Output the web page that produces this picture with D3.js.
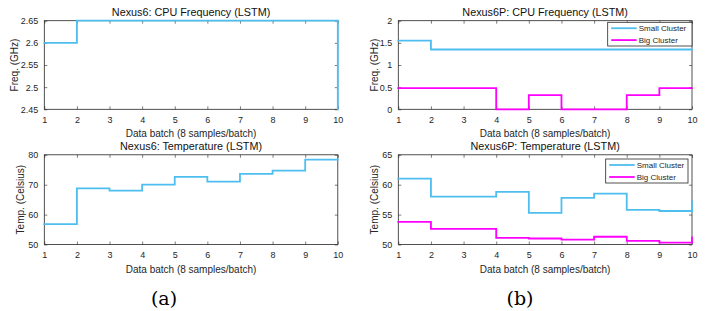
<!DOCTYPE html>
<html>
<head>
<meta charset="utf-8">
<script src="https://cdn.jsdelivr.net/npm/d3@7"></script>
<style>
  html, body { margin: 0; padding: 0; background: #fff; }
  svg { display: block; }
  text { font-family: "Liberation Sans", Arial, Helvetica, sans-serif; }
</style>
</head>
<body>
<svg id="chart" width="722" height="311"></svg>
<script>
// ---------------- data ----------------
const batches = [1, 2, 3, 4, 5, 6, 7, 8, 9, 10];
const xTicks = [1, 2, 3, 4, 5, 6, 7, 8, 9, 10];

const nexus6Freq = [2.60, 2.65, 2.65, 2.65, 2.65, 2.65, 2.65, 2.65, 2.65, 2.45];
const nexus6Temp = [56.8, 68.8, 68.0, 70.0, 72.6, 71.0, 73.6, 74.7, 78.4, 78.4];

const nexus6PFreqSmall = [1.55, 1.35, 1.35, 1.35, 1.35, 1.35, 1.35, 1.35, 1.35, 1.35];
const nexus6PFreqBig   = [0.48, 0.48, 0.48, 0.00, 0.32, 0.00, 0.00, 0.32, 0.48, 0.48];

const nexus6PTempSmall = [61.0, 58.0, 58.0, 58.8, 55.3, 57.8, 58.5, 55.8, 55.6, 57.2];
const nexus6PTempBig   = [53.8, 52.6, 52.6, 51.1, 51.0, 50.8, 51.3, 50.6, 50.3, 51.2];

const freqTicksA = [2.45, 2.5, 2.55, 2.6, 2.65];
const freqTicksB = [0, 0.5, 1, 1.5, 2];
const tempTicksA = [50, 60, 70, 80];
const tempTicksB = [50, 55, 60, 65];

const seriesNames = ["Small Cluster", "Big Cluster"];
const titles = [
  "Nexus6: CPU Frequency (LSTM)",
  "Nexus6P: CPU Frequency (LSTM)",
  "Nexus6: Temperature (LSTM)",
  "Nexus6P: Temperature (LSTM)"
];
const xLabel = "Data batch (8 samples/batch)";
const yLabels = ["Freq. (GHz)", "Temp. (Celsius)"];
const captions = ["(a)", "(b)"];

// ---------------- styles ----------------
const BLUE = "#4DBEEE";
const MAGENTA = "#FF00FF";
const AXC = "#262626";

const svg = d3.select("#chart");

function panel(opts) {
  const { x0, x1, y0, y1, yDomain, yTicks, series, title, ylabel, ylabelX, legend } = opts;
  const x = d3.scaleLinear().domain([1, 10]).range([x0, x1]);
  const y = d3.scaleLinear().domain(yDomain).range([y1, y0]);
  const g = svg.append("g");

  // white background box
  g.append("rect").attr("x", x0).attr("y", y0).attr("width", x1 - x0).attr("height", y1 - y0)
    .attr("fill", "#fff");

  const fmt = d => String(+d.toFixed(2));

  // bottom axis (inward ticks)
  const gb = g.append("g").attr("transform", `translate(0,${y1})`)
    .call(d3.axisBottom(x).tickValues(xTicks).tickSizeInner(-3).tickSizeOuter(0).tickPadding(7).tickFormat(d3.format("d")));
  // top axis
  const gt = g.append("g").attr("transform", `translate(0,${y0})`)
    .call(d3.axisTop(x).tickValues(xTicks).tickSizeInner(-3).tickSizeOuter(0).tickFormat(""));
  // left axis
  const gl = g.append("g").attr("transform", `translate(${x0},0)`)
    .call(d3.axisLeft(y).tickValues(yTicks).tickSizeInner(-3).tickSizeOuter(0).tickPadding(6).tickFormat(fmt));
  // right axis
  const gr = g.append("g").attr("transform", `translate(${x1},0)`)
    .call(d3.axisRight(y).tickValues(yTicks).tickSizeInner(-3).tickSizeOuter(0).tickFormat(""));

  [gb, gt, gl, gr].forEach(a => {
    a.select(".domain").remove();
    a.selectAll("line").attr("stroke", AXC).attr("stroke-width", 0.6);
    a.selectAll("text").attr("fill", AXC).style("font-size", "9px")
      .style("font-family", '"Liberation Sans", Arial, sans-serif');
  });

  // box
  g.append("rect").attr("x", x0).attr("y", y0).attr("width", x1 - x0).attr("height", y1 - y0)
    .attr("fill", "none").attr("stroke", AXC).attr("stroke-width", 0.8);

  // lines
  const line = d3.line().x((d, i) => x(batches[i])).y(d => y(d)).curve(d3.curveStepAfter);
  series.forEach(s => {
    g.append("path").datum(s.values).attr("d", line)
      .attr("fill", "none").attr("stroke", s.color).attr("stroke-width", 1.8)
      .attr("stroke-linejoin", "miter").attr("stroke-linecap", "square");
  });

  // title
  g.append("text").attr("x", (x0 + x1) / 2).attr("y", y0 - 5)
    .attr("text-anchor", "middle").style("font-size", "10.8px").attr("fill", "#111")
    .text(title);
  // x label
  g.append("text").attr("x", (x0 + x1) / 2).attr("y", y1 + 28)
    .attr("text-anchor", "middle").style("font-size", "10px").attr("fill", AXC)
    .text(xLabel);
  // y label
  g.append("text")
    .attr("transform", `translate(${ylabelX},${(y0 + y1) / 2}) rotate(-90)`)
    .attr("text-anchor", "middle").attr("dy", "0.35em").style("font-size", "10px").attr("fill", AXC)
    .text(ylabel);

  if (legend) {
    const { lx0, ly0, lx1, ly1 } = legend;
    g.append("rect").attr("x", lx0).attr("y", ly0).attr("width", lx1 - lx0).attr("height", ly1 - ly0)
      .attr("fill", "#fff").attr("stroke", AXC).attr("stroke-width", 0.8);
    const rowH = (ly1 - ly0) / 2;
    series.forEach((s, i) => {
      const cy = ly0 + rowH * (i + 0.5);
      g.append("line").attr("x1", lx0 + 3.5).attr("x2", lx0 + 29).attr("y1", cy).attr("y2", cy)
        .attr("stroke", s.color).attr("stroke-width", 1.8);
      g.append("text").attr("x", lx0 + 31).attr("y", cy).attr("dy", "0.35em")
        .style("font-size", "8px").attr("fill", AXC).text(s.name);
    });
  }
}

const XA0 = 44.3, XA1 = 337.8, XB0 = 398.3, XB1 = 692;
const YT0 = 20.7, YT1 = 109.3, YB0 = 154.8, YB1 = 244.5;

panel({ x0: XA0, x1: XA1, y0: YT0, y1: YT1, yDomain: [2.45, 2.65], yTicks: freqTicksA,
  series: [{ values: nexus6Freq, color: BLUE }], title: titles[0], ylabel: yLabels[0], ylabelX: 14 });

panel({ x0: XB0, x1: XB1, y0: YT0, y1: YT1, yDomain: [0, 2], yTicks: freqTicksB,
  series: [{ values: nexus6PFreqSmall, color: BLUE, name: seriesNames[0] },
           { values: nexus6PFreqBig, color: MAGENTA, name: seriesNames[1] }],
  title: titles[1], ylabel: yLabels[0], ylabelX: 374.5,
  legend: { lx0: 607.7, ly0: 22.3, lx1: 692, ly1: 46 } });

panel({ x0: XA0, x1: XA1, y0: YB0, y1: YB1, yDomain: [50, 80], yTicks: tempTicksA,
  series: [{ values: nexus6Temp, color: BLUE }], title: titles[2], ylabel: yLabels[1], ylabelX: 20 });

panel({ x0: XB0, x1: XB1, y0: YB0, y1: YB1, yDomain: [50, 65], yTicks: tempTicksB,
  series: [{ values: nexus6PTempSmall, color: BLUE, name: seriesNames[0] },
           { values: nexus6PTempBig, color: MAGENTA, name: seriesNames[1] }],
  title: titles[3], ylabel: yLabels[1], ylabelX: 374.5,
  legend: { lx0: 605.7, ly0: 159, lx1: 688, ly1: 183 } });

// captions
svg.append("text").attr("x", 164).attr("y", 305).attr("text-anchor", "middle")
  .style("font-family", '"DejaVu Serif", "Liberation Serif", serif').style("font-size", "19px")
  .attr("fill", "#000").text(captions[0]);
svg.append("text").attr("x", 520).attr("y", 305).attr("text-anchor", "middle")
  .style("font-family", '"DejaVu Serif", "Liberation Serif", serif').style("font-size", "19px")
  .attr("fill", "#000").text(captions[1]);
</script>
</body>
</html>
